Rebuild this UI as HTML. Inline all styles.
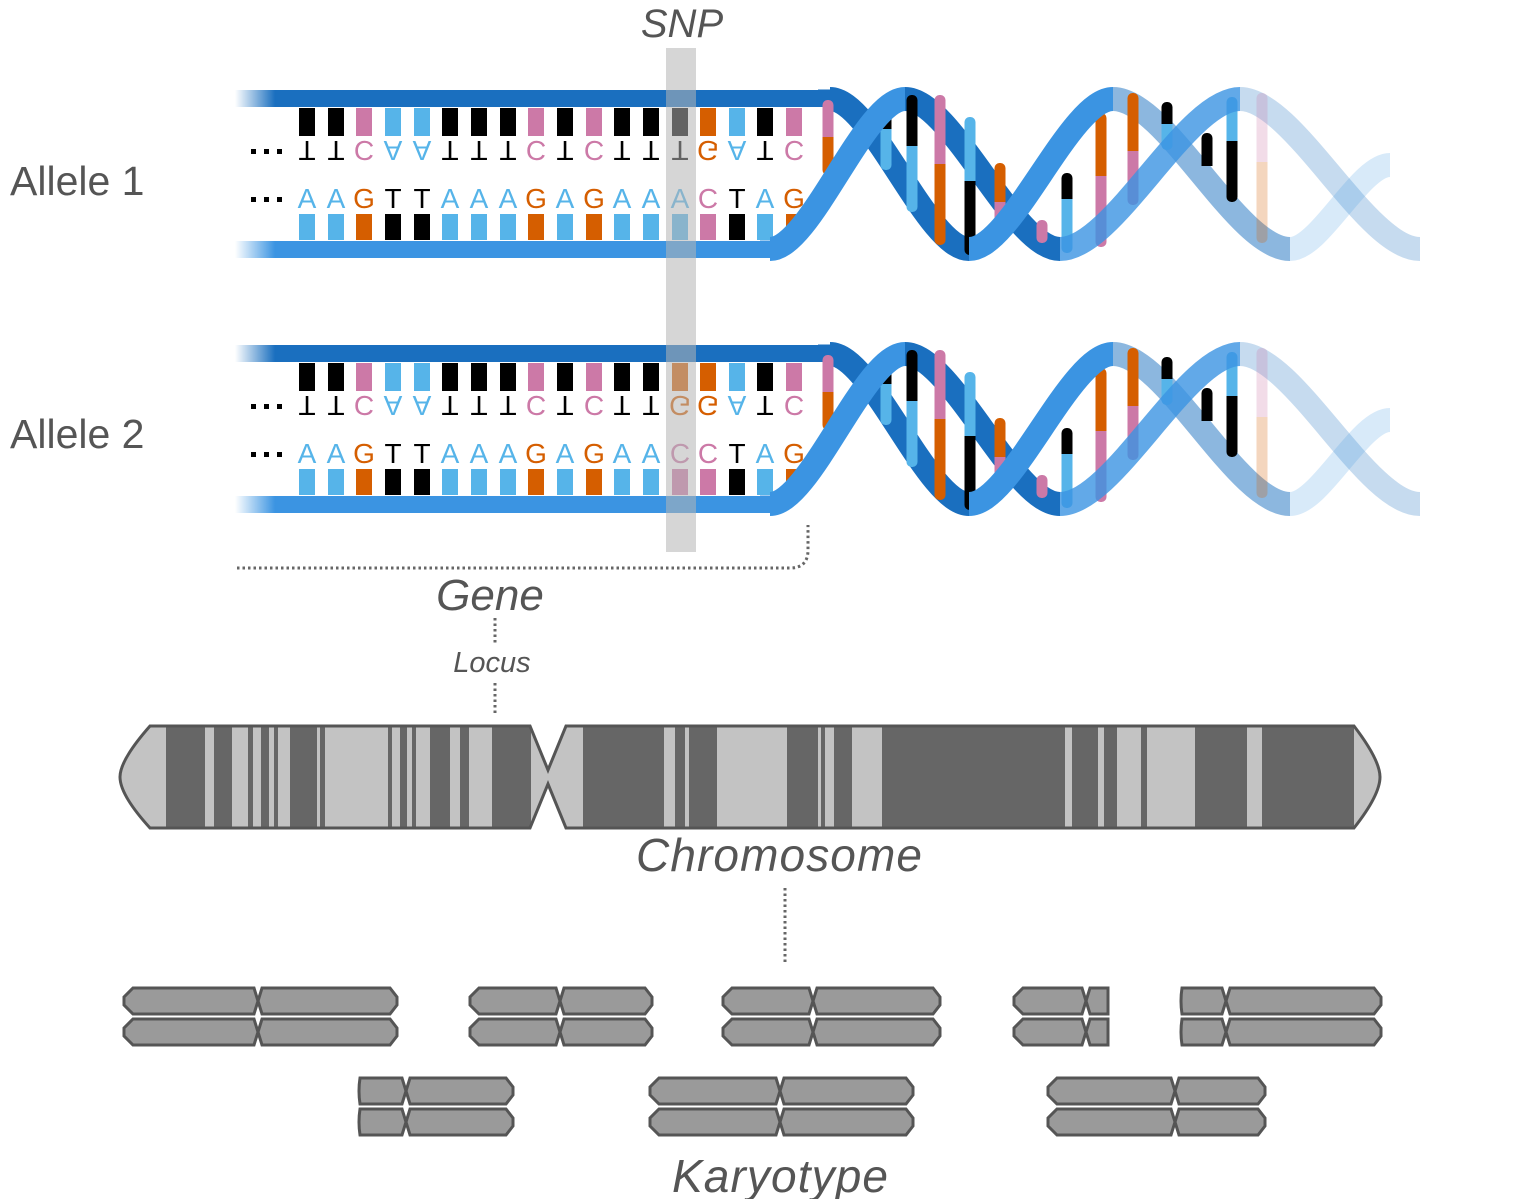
<!DOCTYPE html>
<html><head><meta charset="utf-8"><style>
html,body{margin:0;padding:0;background:#fff;}
svg{display:block;}
.lab{font-family:"Liberation Sans",sans-serif;fill:#555;}
.it{font-style:italic;}
.b{font-family:"Liberation Sans",sans-serif;font-size:28px;text-anchor:middle;}
</style></head><body>
<svg id="s" width="1518" height="1199" viewBox="0 0 1518 1199" xmlns="http://www.w3.org/2000/svg">
<defs>
<linearGradient id="fd" x1="235" x2="275" y1="0" y2="0" gradientUnits="userSpaceOnUse"><stop offset="0" stop-color="#1a6fbf" stop-opacity="0"/><stop offset="1" stop-color="#1a6fbf"/></linearGradient>
<linearGradient id="fl" x1="235" x2="275" y1="0" y2="0" gradientUnits="userSpaceOnUse"><stop offset="0" stop-color="#3b94e2" stop-opacity="0"/><stop offset="1" stop-color="#3b94e2"/></linearGradient>
<clipPath id="cc"><path d="M150,726 H530 L548,770 L566,726 H1354 Q1380,760 1380,777 Q1380,795 1354,828 H566 L548,784 L530,828 H150 Q120,795 120,777 Q120,760 150,726 Z"/></clipPath>
</defs>

<text class="lab" x="10" y="195" font-size="41">Allele 1</text>
<text class="lab" x="10" y="448" font-size="41">Allele 2</text>

<g id="a1"></g>
<g id="a2" transform="translate(0,255)"></g>

<g fill="#000">
<rect x="251" y="149" width="5" height="5"/><rect x="264" y="149" width="5" height="5"/><rect x="277" y="149" width="5" height="5"/>
<rect x="251" y="197" width="5" height="5"/><rect x="264" y="197" width="5" height="5"/><rect x="277" y="197" width="5" height="5"/>
<rect x="251" y="404" width="5" height="5"/><rect x="264" y="404" width="5" height="5"/><rect x="277" y="404" width="5" height="5"/>
<rect x="251" y="452" width="5" height="5"/><rect x="264" y="452" width="5" height="5"/><rect x="277" y="452" width="5" height="5"/>
</g>

<!-- letters allele 1 -->
<g class="b">
<text y="208"><tspan x="307" fill="#56b4e9">A</tspan><tspan x="336" fill="#56b4e9">A</tspan><tspan x="364" fill="#d55e00">G</tspan><tspan x="393" fill="#000">T</tspan><tspan x="422" fill="#000">T</tspan><tspan x="450" fill="#56b4e9">A</tspan><tspan x="479" fill="#56b4e9">A</tspan><tspan x="508" fill="#56b4e9">A</tspan><tspan x="536" fill="#d55e00">G</tspan><tspan x="565" fill="#56b4e9">A</tspan><tspan x="594" fill="#d55e00">G</tspan><tspan x="622" fill="#56b4e9">A</tspan><tspan x="651" fill="#56b4e9">A</tspan><tspan x="680" fill="#56b4e9">A</tspan><tspan x="708" fill="#cc79a7">C</tspan><tspan x="737" fill="#000">T</tspan><tspan x="765" fill="#56b4e9">A</tspan><tspan x="794" fill="#d55e00">G</tspan></text>
<g transform="scale(1,-1)"><text y="-141"><tspan x="307" fill="#000">T</tspan><tspan x="336" fill="#000">T</tspan><tspan x="364" fill="#cc79a7">C</tspan><tspan x="393" fill="#56b4e9">A</tspan><tspan x="422" fill="#56b4e9">A</tspan><tspan x="450" fill="#000">T</tspan><tspan x="479" fill="#000">T</tspan><tspan x="508" fill="#000">T</tspan><tspan x="536" fill="#cc79a7">C</tspan><tspan x="565" fill="#000">T</tspan><tspan x="594" fill="#cc79a7">C</tspan><tspan x="622" fill="#000">T</tspan><tspan x="651" fill="#000">T</tspan><tspan x="680" fill="#000">T</tspan><tspan x="708" fill="#d55e00">G</tspan><tspan x="737" fill="#56b4e9">A</tspan><tspan x="765" fill="#000">T</tspan><tspan x="794" fill="#cc79a7">C</tspan></text></g>
</g>
<!-- letters allele 2 -->
<g class="b" transform="translate(0,255)">
<text y="208"><tspan x="307" fill="#56b4e9">A</tspan><tspan x="336" fill="#56b4e9">A</tspan><tspan x="364" fill="#d55e00">G</tspan><tspan x="393" fill="#000">T</tspan><tspan x="422" fill="#000">T</tspan><tspan x="450" fill="#56b4e9">A</tspan><tspan x="479" fill="#56b4e9">A</tspan><tspan x="508" fill="#56b4e9">A</tspan><tspan x="536" fill="#d55e00">G</tspan><tspan x="565" fill="#56b4e9">A</tspan><tspan x="594" fill="#d55e00">G</tspan><tspan x="622" fill="#56b4e9">A</tspan><tspan x="651" fill="#56b4e9">A</tspan><tspan x="680" fill="#cc79a7">C</tspan><tspan x="708" fill="#cc79a7">C</tspan><tspan x="737" fill="#000">T</tspan><tspan x="765" fill="#56b4e9">A</tspan><tspan x="794" fill="#d55e00">G</tspan></text>
<g transform="scale(1,-1)"><text y="-141"><tspan x="307" fill="#000">T</tspan><tspan x="336" fill="#000">T</tspan><tspan x="364" fill="#cc79a7">C</tspan><tspan x="393" fill="#56b4e9">A</tspan><tspan x="422" fill="#56b4e9">A</tspan><tspan x="450" fill="#000">T</tspan><tspan x="479" fill="#000">T</tspan><tspan x="508" fill="#000">T</tspan><tspan x="536" fill="#cc79a7">C</tspan><tspan x="565" fill="#000">T</tspan><tspan x="594" fill="#cc79a7">C</tspan><tspan x="622" fill="#000">T</tspan><tspan x="651" fill="#000">T</tspan><tspan x="680" fill="#d55e00">G</tspan><tspan x="708" fill="#d55e00">G</tspan><tspan x="737" fill="#56b4e9">A</tspan><tspan x="765" fill="#000">T</tspan><tspan x="794" fill="#cc79a7">C</tspan></text></g>
</g>

<g id="hx1"></g>
<g id="hx2" transform="translate(0,255)"></g>

<!-- SNP column -->
<rect x="666" y="48" width="30" height="504" fill="#b4b4b4" opacity="0.55"/>
<text class="lab it" x="682" y="37" font-size="40" text-anchor="middle">SNP</text>

<!-- gene bracket -->
<path d="M237,568 H790 Q808,568 808,550 V525" fill="none" stroke="#666" stroke-width="3" stroke-dasharray="2.5 3"/>
<text class="lab it" x="490" y="610" font-size="44" text-anchor="middle">Gene</text>
<path d="M495,618 V645 M495,683 V716" stroke="#666" stroke-width="3" stroke-dasharray="2.5 3"/>
<text class="lab it" x="492" y="672" font-size="29" text-anchor="middle">Locus</text>

<!-- chromosome -->
<g clip-path="url(#cc)"><rect x="115" y="720" width="1270" height="115" fill="#c3c3c3"/><g id="bands" fill="#666"></g></g>
<path d="M150,726 H530 L548,770 L566,726 H1354 Q1380,760 1380,777 Q1380,795 1354,828 H566 L548,784 L530,828 H150 Q120,795 120,777 Q120,760 150,726 Z" fill="none" stroke="#555" stroke-width="3"/>
<text class="lab it" x="779" y="871" font-size="46" text-anchor="middle" textLength="286">Chromosome</text>
<path d="M785,888 V965" stroke="#666" stroke-width="3" stroke-dasharray="2.5 3"/>

<g id="kar" fill="#9a9a9a" stroke="#555" stroke-width="3"></g>
<text class="lab it" x="780" y="1192" font-size="46" text-anchor="middle" textLength="216">Karyotype</text>
</svg>
<script>
var NS="http://www.w3.org/2000/svg";
function el(p,t,a){var e=document.createElementNS(NS,t);for(var k in a)e.setAttribute(k,a[k]);p.appendChild(e);return e;}
var C={A:"#56b4e9",T:"#000",G:"#d55e00",C:"#cc79a7"};
var xs=[307,336,364,393,422,450,479,508,536,565,594,622,651,680,708,737,765,794];
function allele(g,top,bot){
  el(g,"rect",{x:235,y:90,width:590,height:17,fill:"url(#fd)"});
  el(g,"rect",{x:235,y:241,width:535,height:17,fill:"url(#fl)"});
  for(var i=0;i<18;i++){
    el(g,"rect",{x:xs[i]-8,y:108,width:16,height:28,fill:C[top[i]]});
    el(g,"rect",{x:xs[i]-8,y:214,width:16,height:26,fill:C[bot[i]]});
  }
}
allele(document.getElementById("a1"),"TTCAATTTCTCTTTGATC","AAGTTAAAGAGAAACTAG");
allele(document.getElementById("a2"),"TTCAATTTCTCTTGGATC","AAGTTAAAGAGAACCTAG");
function seg(g,x0,y0,x1,y1,col,op){
  var d=Math.abs(x1-x0)*0.3;
  el(g,"path",{d:"M"+x0+","+y0+" C"+(x0+d)+","+y0+" "+(x1-d)+","+y1+" "+x1+","+y1,fill:"none",stroke:col,"stroke-width":24,opacity:op});
}
function helix(g){
  var D="#1a6fbf",L="#3b94e2",T=99,B=249;
  el(g,"path",{d:"M818,98 H830",stroke:D,"stroke-width":17});
  seg(g,830,T,969,B,D,1);
  seg(g,905,T,1060,B,D,1);
  seg(g,1113,T,1290,B,D,0.5);
  seg(g,1240,T,1420,B,D,0.25);
  var R=[[828,100,143,"#cc79a7",175,"#d55e00",1],[886,112,135,"#000",170,"#56b4e9",1],[912,95,152,"#000",212,"#56b4e9",1],[940,95,170,"#cc79a7",245,"#d55e00",1],[970,117,187,"#56b4e9",255,"#000",1],[1000,163,208,"#d55e00",240,"#cc79a7",1],[1042,220,232,"#cc79a7",243,"#cc79a7",1],[1067,173,205,"#000",253,"#56b4e9",1],[1101,113,182,"#d55e00",247,"#cc79a7",1],[1133,93,157,"#d55e00",205,"#cc79a7",1],[1167,102,130,"#000",150,"#56b4e9",1],[1207,133,160,"#000",160,"#000",1],[1232,97,147,"#56b4e9",202,"#000",1],[1262,93,168,"#cc79a7",243,"#d55e00",0.25]];
  R.forEach(function(r){
    var gg=el(g,"g",{opacity:r[6]});
    el(gg,"rect",{x:r[0]-5.5,y:r[1],width:11,height:r[2]-r[1],fill:r[3],rx:5});
    el(gg,"rect",{x:r[0]-5.5,y:r[2],width:11,height:r[4]-r[2],fill:r[5],rx:5});
    el(gg,"rect",{x:r[0]-5.5,y:r[2]-6,width:11,height:12,fill:r[5]});
  });
  el(g,"path",{d:"M760,249 H772",stroke:L,"stroke-width":17});
  seg(g,770,B,905,T,L,1);
  seg(g,969,B,1113,T,L,1);
  seg(g,1060,B,1240,T,L,0.8);
  seg(g,1290,B,1390,165,L,0.2);
}
helix(document.getElementById("hx1"));helix(document.getElementById("hx2"));
var bands=[[166,205],[214,232],[248,253],[261,269],[274,278],[290,317],[320,325],[388,392],[400,407],[412,416],[430,450],[460,469],[492,531],[583,664],[675,685],[689,717],[787,818],[821,825],[834,852],[882,1065],[1072,1098],[1104,1117],[1141,1147],[1195,1247],[1262,1354]];
var bg=document.getElementById("bands");
bands.forEach(function(b){el(bg,"rect",{x:b[0],y:720,width:b[1]-b[0],height:115});});
var kg=document.getElementById("kar");
function chr(x0,xc,x1,t,fl,fr){
  var b=t+26,m=t+13;
  if(fl) el(kg,"path",{d:"M"+(x0+2)+","+t+" H"+(xc-4)+" L"+xc+","+m+" L"+(xc-4)+","+b+" H"+(x0+2)+" Q"+x0+","+m+" "+(x0+2)+","+t+" Z"});
  else el(kg,"path",{d:"M"+(x0+9)+","+t+" H"+(xc-4)+" L"+xc+","+m+" L"+(xc-4)+","+b+" H"+(x0+9)+" L"+x0+","+(m+4)+" V"+(m-4)+" Z"});
  if(fr) el(kg,"path",{d:"M"+(xc+4)+","+t+" H"+x1+" V"+b+" H"+(xc+4)+" L"+xc+","+m+" Z"});
  else el(kg,"path",{d:"M"+(xc+4)+","+t+" H"+(x1-7)+" L"+x1+","+(m-4)+" V"+(m+4)+" L"+(x1-7)+","+b+" H"+(xc+4)+" L"+xc+","+m+" Z"});
}
[[124,258,397,988],[470,560,652,988],[723,813,940,988],[1014,1086,1108,988,0,1],[1180,1226,1381,988,1,0],[358,406,513,1078,1,0],[650,780,913,1078],[1048,1175,1265,1078]].forEach(function(k){chr(k[0],k[1],k[2],k[3],k[4],k[5]);chr(k[0],k[1],k[2],k[3]+31,k[4],k[5]);});
</script>
</body></html>
